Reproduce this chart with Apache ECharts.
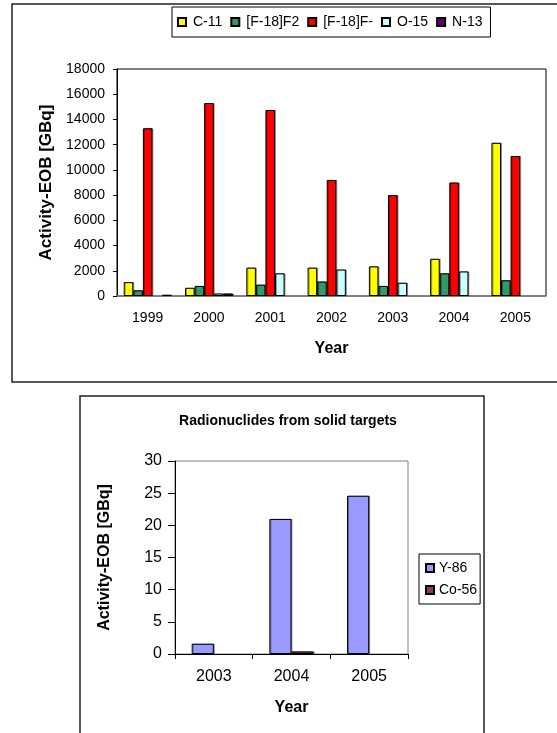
<!DOCTYPE html>
<html>
<head>
<meta charset="utf-8">
<script src="https://cdn.jsdelivr.net/npm/echarts@6/dist/echarts.min.js"></script>
<style>
    html, body { margin: 0; padding: 0; background: #fff; }
    #main { width: 557px; height: 733px; }
</style>
</head>
<body>
<div id="main"></div>
<script>
    // top chart: liquid / gas targets (null = no bar)
    var years = ['1999', '2000', '2001', '2002', '2003', '2004', '2005'];
    var c11 = [1100, 650, 2250, 2250, 2350, 2950, 12150];
    var f18f2 = [450, 800, 900, 1150, 800, 1800, 1250];
    var f18f = [13300, 15300, 14750, 9200, 8000, 9000, 11100];
    var o15 = [null, 200, 1800, 2100, 1050, 1950, null];
    var n13 = [100, 200, null, null, null, null, null];

    // bottom chart: solid targets
    var solidYears = ['2003', '2004', '2005'];
    var y86 = [1.6, 21, 24.6];
    var co56 = [null, 0.4, null];

    var font = 'Liberation Sans, Arial, sans-serif';
    var chart = echarts.init(document.getElementById('main'));

    function barSeries(name, data, color, axisIdx) {
        return {
            name: name,
            type: 'bar',
            xAxisIndex: axisIdx,
            yAxisIndex: axisIdx,
            data: data,
            barGap: '0%',
            barCategoryGap: axisIdx === 0 ? '22%' : '43%',
            itemStyle: {
                color: color,
                borderColor: '#000',
                borderWidth: 1,
                shadowColor: 'rgba(0,0,0,0.35)',
                shadowOffsetX: 1,
                shadowOffsetY: 0
            }
        };
    }

    function plain(v) { return String(v); }

    var option = {
        animation: false,
        textStyle: { fontFamily: font },
        graphic: [
            {
                type: 'rect', z: -10,
                shape: { x: 12, y: 4, width: 560, height: 378 },
                style: { fill: '#fff', stroke: '#222', lineWidth: 1.5 }
            },
            {
                type: 'rect', z: -10,
                shape: { x: 80, y: 396, width: 404, height: 400 },
                style: { fill: '#fff', stroke: '#222', lineWidth: 1.5 }
            }
        ],
        title: {
            text: 'Radionuclides from solid targets',
            left: 283, top: 409, textAlign: 'center',
            textStyle: { fontSize: 14, fontWeight: 'bold', color: '#000', fontFamily: font }
        },
        legend: [
            {
                data: ['C-11', '[F-18]F2', '[F-18]F-', 'O-15', 'N-13'],
                left: 172, top: 7,
                padding: [8, 8, 8, 5],
                itemGap: 8,
                itemWidth: 8, itemHeight: 8,
                icon: 'rect',
                borderColor: '#000', borderWidth: 1,
                textStyle: { fontSize: 14, color: '#000', fontFamily: font, padding: [0, 0, 0, 2] }
            },
            {
                data: ['Y-86', 'Co-56'],
                orient: 'vertical',
                left: 419, top: 554,
                padding: [7, 3, 7, 6],
                itemGap: 8,
                itemWidth: 8, itemHeight: 8,
                icon: 'rect',
                borderColor: '#000', borderWidth: 1,
                textStyle: { fontSize: 14, color: '#000', fontFamily: font }
            }
        ],
        grid: [
            { left: 117, right: 11, top: 69, bottom: 437, show: true, borderColor: '#000', borderWidth: 1, backgroundColor: '#fff' },
            { left: 175, right: 149, top: 461, bottom: 79, show: true, borderColor: '#808080', borderWidth: 1, backgroundColor: '#fff' }
        ],
        xAxis: [
            {
                type: 'category', gridIndex: 0, data: years,
                name: 'Year', nameLocation: 'middle', nameGap: 45,
                nameTextStyle: { fontSize: 16, fontWeight: 'bold', color: '#000', fontFamily: font },
                axisLine: { lineStyle: { color: '#808080', width: 1.5 } },
                axisTick: { show: false },
                axisLabel: { fontSize: 14, color: '#000', margin: 15, fontFamily: font }
            },
            {
                type: 'category', gridIndex: 1, data: solidYears,
                name: 'Year', nameLocation: 'middle', nameGap: 46,
                nameTextStyle: { fontSize: 16, fontWeight: 'bold', color: '#000', fontFamily: font },
                axisLine: { lineStyle: { color: '#000', width: 1 } },
                axisTick: { show: true, length: 5, lineStyle: { color: '#000' } },
                axisLabel: { fontSize: 16, color: '#000', margin: 15, fontFamily: font }
            }
        ],
        yAxis: [
            {
                type: 'value', gridIndex: 0, min: 0, max: 18000, interval: 2000,
                name: 'Activity-EOB [GBq]', nameLocation: 'middle', nameGap: 62, nameRotate: 90,
                nameTextStyle: { fontSize: 17, fontWeight: 'bold', color: '#000', fontFamily: font },
                axisLine: { show: true, lineStyle: { color: '#000' } },
                axisTick: { show: true, length: 4, lineStyle: { color: '#000' } },
                axisLabel: { fontSize: 14, color: '#000', margin: 12, fontFamily: font, formatter: plain },
                splitLine: { show: false }
            },
            {
                type: 'value', gridIndex: 1, min: 0, max: 30, interval: 5,
                name: 'Activity-EOB [GBq]', nameLocation: 'middle', nameGap: 62, nameRotate: 90,
                nameTextStyle: { fontSize: 16, fontWeight: 'bold', color: '#000', fontFamily: font },
                axisLine: { show: true, lineStyle: { color: '#000' } },
                axisTick: { show: true, length: 7, lineStyle: { color: '#000' } },
                axisLabel: { fontSize: 16, color: '#000', margin: 13, fontFamily: font, formatter: plain },
                splitLine: { show: false }
            }
        ],
        series: [
            barSeries('C-11', c11, '#FFFF00', 0),
            barSeries('[F-18]F2', f18f2, '#339966', 0),
            barSeries('[F-18]F-', f18f, '#FF0000', 0),
            barSeries('O-15', o15, '#CCFFFF', 0),
            barSeries('N-13', n13, '#660066', 0),
            barSeries('Y-86', y86, '#9999FF', 1),
            barSeries('Co-56', co56, '#993366', 1)
        ]
    };

    chart.setOption(option);
</script>
</body>
</html>
